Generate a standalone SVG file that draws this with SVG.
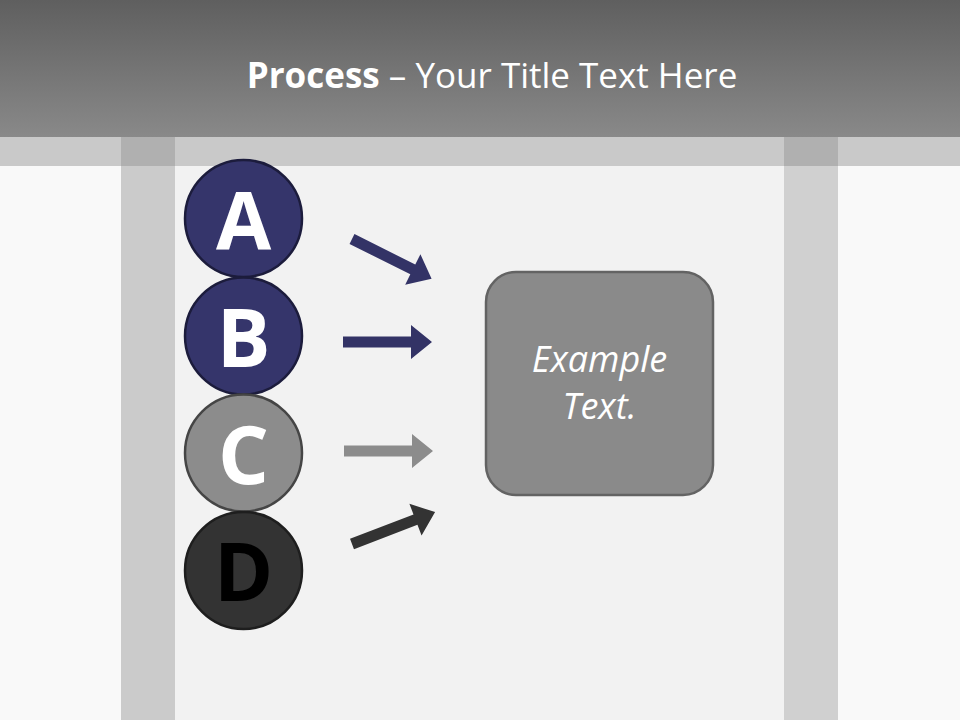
<svg xmlns="http://www.w3.org/2000/svg" width="960" height="720" viewBox="0 0 960 720">
<defs>
<linearGradient id="hdr" x1="0" y1="0" x2="0" y2="1">
<stop offset="0" stop-color="#5f5f5f"/>
<stop offset="1" stop-color="#898989"/>
</linearGradient>
<style>
.letter{font-family:"Open Sans","DejaVu Sans",sans-serif;font-weight:bold;font-size:80px;text-anchor:middle}
.navy{fill:#35356b;stroke:#1c1c3c;stroke-width:2.5}
.grey{fill:#8c8c8c;stroke:#454545;stroke-width:2.5}
.dark{fill:#333333;stroke:#1e1e1e;stroke-width:2.5}
.box-text{font-family:"Open Sans","DejaVu Sans",sans-serif;font-style:italic;font-size:36px;fill:#ffffff;text-anchor:middle}
</style>
<polygon id="arr" points="0,-5.5 68,-5.5 68,-17 89,0 68,17 68,5.5 0,5.5"/>
</defs>
<rect x="0" y="0" width="960" height="720" fill="#f9f9f9"/>
<rect x="175" y="166" width="609" height="554" fill="#f2f2f2"/>
<rect x="0" y="0" width="960" height="137" fill="url(#hdr)"/>
<rect x="0" y="137" width="960" height="29" fill="#c9c9c9"/>
<rect x="121" y="166" width="54" height="554" fill="#cbcbcb"/>
<rect x="784" y="166" width="54" height="554" fill="#d0d0d0"/>
<rect x="121" y="137" width="54" height="29" fill="#b0b0b0"/>
<rect x="784" y="137" width="54" height="29" fill="#b0b0b0"/>
<g id="title">
<text x="492" y="88" font-family="'Open Sans','DejaVu Sans',sans-serif" font-size="35" fill="#ffffff" text-anchor="middle"><tspan font-weight="bold">Process</tspan> – Your Title Text Here</text>
</g>
<g id="connectors">
<use href="#arr" fill="#333366" transform="translate(352,239) rotate(26.6)"/>
<use href="#arr" fill="#333366" transform="translate(343,342)"/>
<use href="#arr" fill="#8c8c8c" transform="translate(344,451)"/>
<use href="#arr" fill="#333333" transform="translate(352,544) rotate(-21)"/>
</g>
<g id="node-a">
<circle cx="243.5" cy="218.5" r="58.5" class="navy"/>
<text x="243.5" y="249.5" class="letter" fill="#ffffff">A</text>
</g>
<g id="node-b">
<circle cx="243.5" cy="336" r="58.5" class="navy"/>
<text x="243.5" y="367" class="letter" fill="#ffffff">B</text>
</g>
<g id="node-c">
<circle cx="243.5" cy="453" r="58.5" class="grey"/>
<text x="243.5" y="484" class="letter" fill="#ffffff">C</text>
</g>
<g id="node-d">
<circle cx="243.5" cy="570.5" r="58.5" class="dark"/>
<text x="243.5" y="601" class="letter" fill="#000000">D</text>
</g>
<g id="node-box">
<rect x="486" y="272" width="227" height="223" rx="30" fill="#8a8a8a" stroke="#636363" stroke-width="2.5"/>
<text x="599.5" y="372" class="box-text">Example</text>
<text x="599.5" y="419" class="box-text">Text.</text>
</g>
</svg>
